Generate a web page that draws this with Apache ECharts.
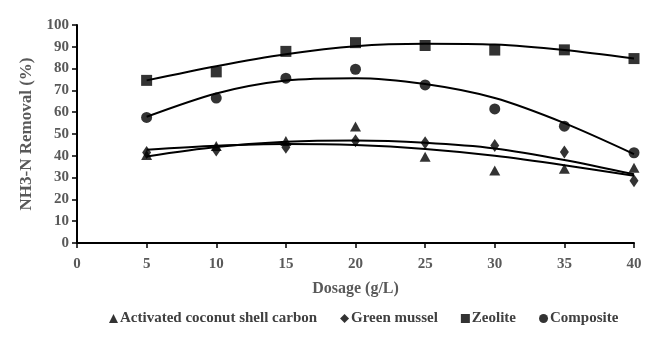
<!DOCTYPE html>
<html><head><meta charset="utf-8">
<script src="https://cdn.jsdelivr.net/npm/echarts@6/dist/echarts.min.js"></script>
<style>html,body{margin:0;padding:0;background:#fff}#c{width:652px;height:347px}</style>
</head><body><div id="c"></div>
<script>
const dosage = [5, 10, 15, 20, 25, 30, 35, 40];
const xTicks = [0, 5, 10, 15, 20, 25, 30, 35, 40];
const yTicks = [0, 10, 20, 30, 40, 50, 60, 70, 80, 90, 100];
const seriesNames = ['Activated coconut shell carbon', 'Green mussel', 'Zeolite', 'Composite'];
const coconut = [40.4, 44.5, 46.8, 53.4, 39.6, 33.2, 34.1, 34.5];
const mussel = [41.5, 42.7, 43.9, 46.9, 46.0, 44.7, 41.8, 28.6];
const zeolite = [74.6, 78.5, 87.9, 91.9, 90.6, 88.5, 88.6, 84.6];
const composite = [57.6, 66.5, 75.6, 79.7, 72.5, 61.5, 53.6, 41.4];
// trendlines (polynomial fits)
const coconutTrend = [42.8, 44.6, 45.4, 44.9, 43.1, 40.0, 35.7, 30.8];
const musselTrend = [39.7, 44.0, 46.4, 47.0, 46.0, 43.4, 38.1, 31.5];
const zeoliteTrend = [74.6, 81.1, 86.6, 90.3, 91.4, 91.0, 88.5, 84.6];
const compositeTrend = [57.9, 68.6, 74.5, 75.6, 72.9, 66.5, 55.0, 40.8];

const symbols = ['triangle', 'diamond', 'rect', 'circle'];
const symbolSizes = [[11, 10], [9, 13], [11, 11], [11, 11]];
const values = [coconut, mussel, zeolite, composite];
const trends = [coconutTrend, musselTrend, zeoliteTrend, compositeTrend];
const pair = (arr) => dosage.map((d, i) => [d, arr[i]]);

const font = 'Liberation Serif';
const gray = '#595959';
const series = [];
trends.forEach((t, i) => {
  series.push({
    type: 'line', name: seriesNames[i] + ' trend', data: pair(t), smooth: 0.3,
    showSymbol: false, symbol: 'none', silent: true,
    lineStyle: { color: '#000', width: 2 }, z: 2
  });
});
values.forEach((v, i) => {
  series.push({
    type: 'scatter', name: seriesNames[i], data: pair(v),
    symbol: symbols[i], symbolSize: symbolSizes[i],
    itemStyle: { color: '#000' }, z: 3
  });
});

const chart = echarts.init(document.getElementById('c'), null, { renderer: 'canvas' });
chart.setOption({
  animation: false,
  backgroundColor: '#fff',
  grid: { left: 77, right: 18, top: 25, bottom: 104, containLabel: false },
  legend: {
    data: seriesNames.map((n, i) => ({ name: n, icon: symbols[i] })),
    bottom: 16, left: 104,
    itemWidth: 9, itemHeight: 9, itemGap: 23,
    textStyle: { fontFamily: font, fontWeight: 'bold', fontSize: 15, color: '#404040', padding: [0, 0, 0, -3] }
  },
  xAxis: {
    type: 'value', min: 0, max: 40, interval: 5,
    name: 'Dosage (g/L)', nameLocation: 'middle', nameGap: 38,
    nameTextStyle: { fontFamily: font, fontWeight: 'bold', fontSize: 16, color: gray },
    axisLine: { show: true, onZero: false, lineStyle: { color: '#000', width: 2 } },
    axisTick: { show: true, length: 5, lineStyle: { color: '#000', width: 1.5 } },
    axisLabel: { fontFamily: font, fontWeight: 'bold', fontSize: 15, color: gray, margin: 14,
      formatter: v => xTicks.includes(v) ? String(v) : '' },
    splitLine: { show: false }
  },
  yAxis: {
    type: 'value', min: 0, max: 100, interval: 10,
    name: 'NH3-N Removal (%)', nameLocation: 'middle', nameGap: 40,
    nameTextStyle: { fontFamily: font, fontWeight: 'bold', fontSize: 17, color: gray },
    axisLine: { show: true, lineStyle: { color: '#000', width: 2 } },
    axisTick: { show: true, length: 5, lineStyle: { color: '#000', width: 1.5 } },
    axisLabel: { fontFamily: font, fontWeight: 'bold', fontSize: 15, color: gray, margin: 8,
      formatter: v => yTicks.includes(v) ? String(v) : '' },
    splitLine: { show: false }
  },
  series: series
});
</script></body></html>
